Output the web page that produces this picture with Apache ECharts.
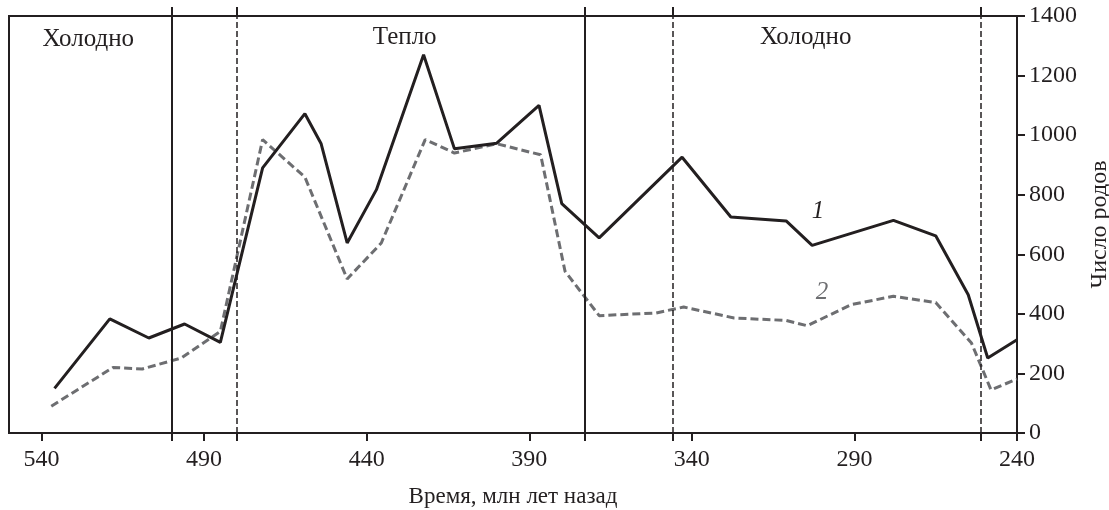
<!DOCTYPE html>
<html>
<head>
<meta charset="utf-8">
<script src="https://cdn.jsdelivr.net/npm/echarts@6/dist/echarts.min.js"></script>
<style>
  html, body { margin: 0; padding: 0; background: #fff; }
  #chart { width: 1109px; height: 510px; }
</style>
</head>
<body>
<div id="chart"></div>
<script>
// время, млн лет назад / число родов
const genera1 = [
  [536, 150], [519, 383], [507, 319], [496, 366], [485, 304], [472, 890],
  [459, 1072], [454, 971], [446, 638], [437, 817], [422.5, 1270], [413, 954],
  [400, 973], [387, 1100], [380, 770], [368.5, 655], [343, 926], [328, 725],
  [311, 712], [303, 630], [278, 714], [265, 662], [255, 464], [249, 252], [240, 313]
]
const genera2 = [
  [537, 90], [518, 220], [509, 215], [497, 252], [485, 341], [472, 985],
  [459, 859], [446, 517], [435.5, 638], [422, 985], [413, 940], [400, 971],
  [386.5, 934], [379, 543], [368.5, 394], [351, 403], [342.5, 423], [327, 386],
  [311, 378], [304.5, 360], [291, 431], [278, 459], [265, 438], [254, 302],
  [248, 145], [240, 181]
]
const xTicks = [540, 490, 440, 390, 340, 290, 240]
// границы периодов: сплошные и пунктирные
const solidBounds = [500, 373]
const dashedBounds = [480, 346, 251]
// подписи климата
const climateLabels = [
  { text: 'Холодно', x: 525.6, y: 1320 },
  { text: 'Тепло', x: 428.3, y: 1328 },
  { text: 'Холодно', x: 305, y: 1328 }
]
const curveLabels = [
  { text: '1', x: 301.2, y: 743 },
  { text: '2', x: 300, y: 471 }
]

const ink = '#231f20'
const gray = '#6d6e71'
const font = 'Liberation Serif'
const allBounds = solidBounds.concat(dashedBounds)

const chart = echarts.init(document.getElementById('chart'))
chart.setOption({
  animation: false,
  textStyle: { fontFamily: font },
  grid: {
    left: 9, right: 92, top: 16, bottom: 77,
    outerBoundsMode: 'none',
    show: true, borderColor: ink, borderWidth: 2
  },
  xAxis: [
    {
      type: 'value',
      min: 240,
      max: 550,
      inverse: true,
      name: 'Время, млн лет назад',
      nameLocation: 'middle',
      nameGap: 52,
      nameTextStyle: { color: ink, fontSize: 23, fontFamily: font },
      axisLine: { show: true, lineStyle: { color: ink, width: 2 } },
      axisTick: { show: true, customValues: xTicks.concat(allBounds), length: 8, lineStyle: { color: ink, width: 2 } },
      axisLabel: { customValues: xTicks, color: ink, fontSize: 24, margin: 15, fontFamily: font },
      splitLine: { show: false }
    },
    {
      // только выносы границ над рамкой
      type: 'value',
      position: 'top',
      min: 240,
      max: 550,
      inverse: true,
      axisLine: { show: false },
      axisTick: { show: true, customValues: allBounds, length: 9, lineStyle: { color: ink, width: 2 } },
      axisLabel: { show: false },
      splitLine: { show: false }
    }
  ],
  yAxis: {
    type: 'value',
    position: 'right',
    min: 0,
    max: 1400,
    interval: 200,
    name: 'Число родов',
    nameLocation: 'middle',
    nameRotate: 90,
    nameGap: 68,
    nameTextStyle: { color: ink, fontSize: 24, fontFamily: font },
    axisLine: { show: true, lineStyle: { color: ink, width: 2 } },
    axisTick: { show: true, inside: false, length: 8, lineStyle: { color: ink, width: 2 } },
    axisLabel: { color: ink, fontSize: 24, margin: 12, fontFamily: font, formatter: (v) => String(v) },
    splitLine: { show: false }
  },
  series: [
    {
      type: 'line',
      data: genera1,
      symbol: 'none',
      lineStyle: { color: ink, width: 3 },
      z: 4,
      markLine: {
        silent: true,
        symbol: 'none',
        label: { show: false },
        lineStyle: { color: ink, width: 2, type: 'solid' },
        data: solidBounds.map((v) => ({ xAxis: v }))
      },
      markPoint: {
        silent: true,
        symbol: 'circle',
        symbolSize: 0,
        label: { show: true, position: 'inside', color: ink, fontSize: 25, fontFamily: font, formatter: (p) => p.name },
        data: climateLabels.map((d) => ({ name: d.text, coord: [d.x, d.y] }))
          .concat(curveLabels.map((d) => ({
            name: d.text, coord: [d.x, d.y],
            label: { fontStyle: 'italic', fontSize: 25, color: d.text === '2' ? gray : ink }
          })))
      }
    },
    {
      type: 'line',
      data: genera2,
      symbol: 'none',
      lineStyle: { color: gray, width: 3, type: [8, 4] },
      z: 3,
      markLine: {
        silent: true,
        symbol: 'none',
        label: { show: false },
        lineStyle: { color: ink, width: 1.5, type: [6, 3] },
        data: dashedBounds.map((v) => ({ xAxis: v }))
      }
    }
  ]
})
</script>
</body>
</html>
